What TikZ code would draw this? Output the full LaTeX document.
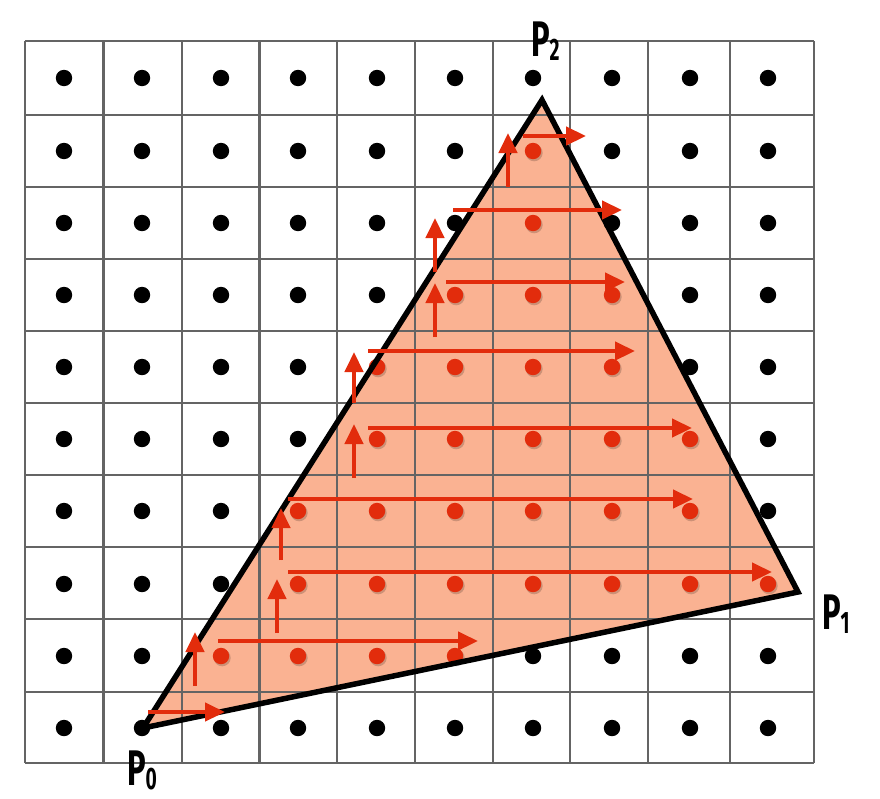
\documentclass[tikz,border=0pt]{standalone}
\usepackage{fontspec}
\newfontfamily\labfont{Fira Sans}
\usetikzlibrary{arrows.meta}
\definecolor{tri}{RGB}{250,178,146}
\definecolor{dotred}{RGB}{226,44,12}
\definecolor{gridgray}{RGB}{100,100,100}
\tikzset{
  gridline/.style={draw=gridgray, line width=2.8pt},
  edge/.style={draw=black, line width=5.5pt, line join=miter},
  scanarrow/.style={draw=dotred, line width=4.5pt, -{Triangle[length=20pt,width=18pt]}, fill=dotred},
  lab/.style={anchor=base west, inner sep=0pt, outer sep=0pt},
}
\newcommand{\vlabel}[1]{\scalebox{0.62}[1]{\labfont\bfseries\fontsize{50}{50}\selectfont P\raisebox{-4pt}{\fontsize{31}{31}\selectfont #1}}}
\begin{document}
\begin{tikzpicture}[x=1pt,y=-1pt]
\fill[white] (0,0) rectangle (880,798);
\useasboundingbox (0,0) rectangle (880,798);
% triangle vertices
\coordinate (P0) at (143,728);
\coordinate (P1) at (798,592);
\coordinate (P2) at (542,100);
% fill
\fill[tri] (P0) -- (P1) -- (P2) -- cycle;
% grid
\foreach \x in {25,103.5,182,259.5,337,415,493,570,648,730,814}
  \draw[gridline] (\x,41) -- (\x,763);
\foreach \y in {41,115,187,259,331,403,475,547,619,692,763}
  \draw[gridline] (25,\y) -- (814,\y);
% sample dots
\foreach \y/\a/\b in {78/20/-1,151/6/6,223/6/6,295/5/7,367/4/7,439/4/8,511/3/8,584/3/9,656/2/5,728/20/-1}{
  \foreach \x [count=\c from 0] in {64,142,221,298,377,455,533,612,690,768}{
    \pgfmathtruncatemacro\isin{and(\c>=\a,\c<=\b)}
    \ifnum\isin=1
      \fill[black,opacity=0.18] (\x+1.2,\y+1.8) circle[radius=8.5pt];
      \fill[dotred] (\x,\y) circle[radius=8.2pt];
    \else
      \fill[black] (\x,\y) circle[radius=8.2pt];
    \fi
  }
}
% triangle outline
\draw[edge] (P0) -- (P1) -- (P2) -- cycle;
% traversal arrows
\foreach \ax/\ay/\bx/\by in {
  148/712/225/712, 195/686/195/632,
  218/641/478/641, 277/633/277/579,
  288/572/772/572, 281/560/281/508,
  288/499/693/499, 354/478/354/424,
  368/428/692/428, 354/403/354/352,
  368/351/635/351, 435/337/435/283,
  446/282/625/282, 435/272/435/218,
  453/210/622/210, 508/187/508/133,
  523/136/586/136}{
  \coordinate (a) at (\ax,\ay);
  \coordinate (b) at (\bx,\by);
  \draw[scanarrow] (a) -- (b);
}
% labels
\node[lab] (L0) at (127,785) {\vlabel{0}};
\node[lab] (L1) at (822,629) {\vlabel{1}};
\node[lab] (L2) at (531,56) {\vlabel{2}};
\end{tikzpicture}
\end{document}
